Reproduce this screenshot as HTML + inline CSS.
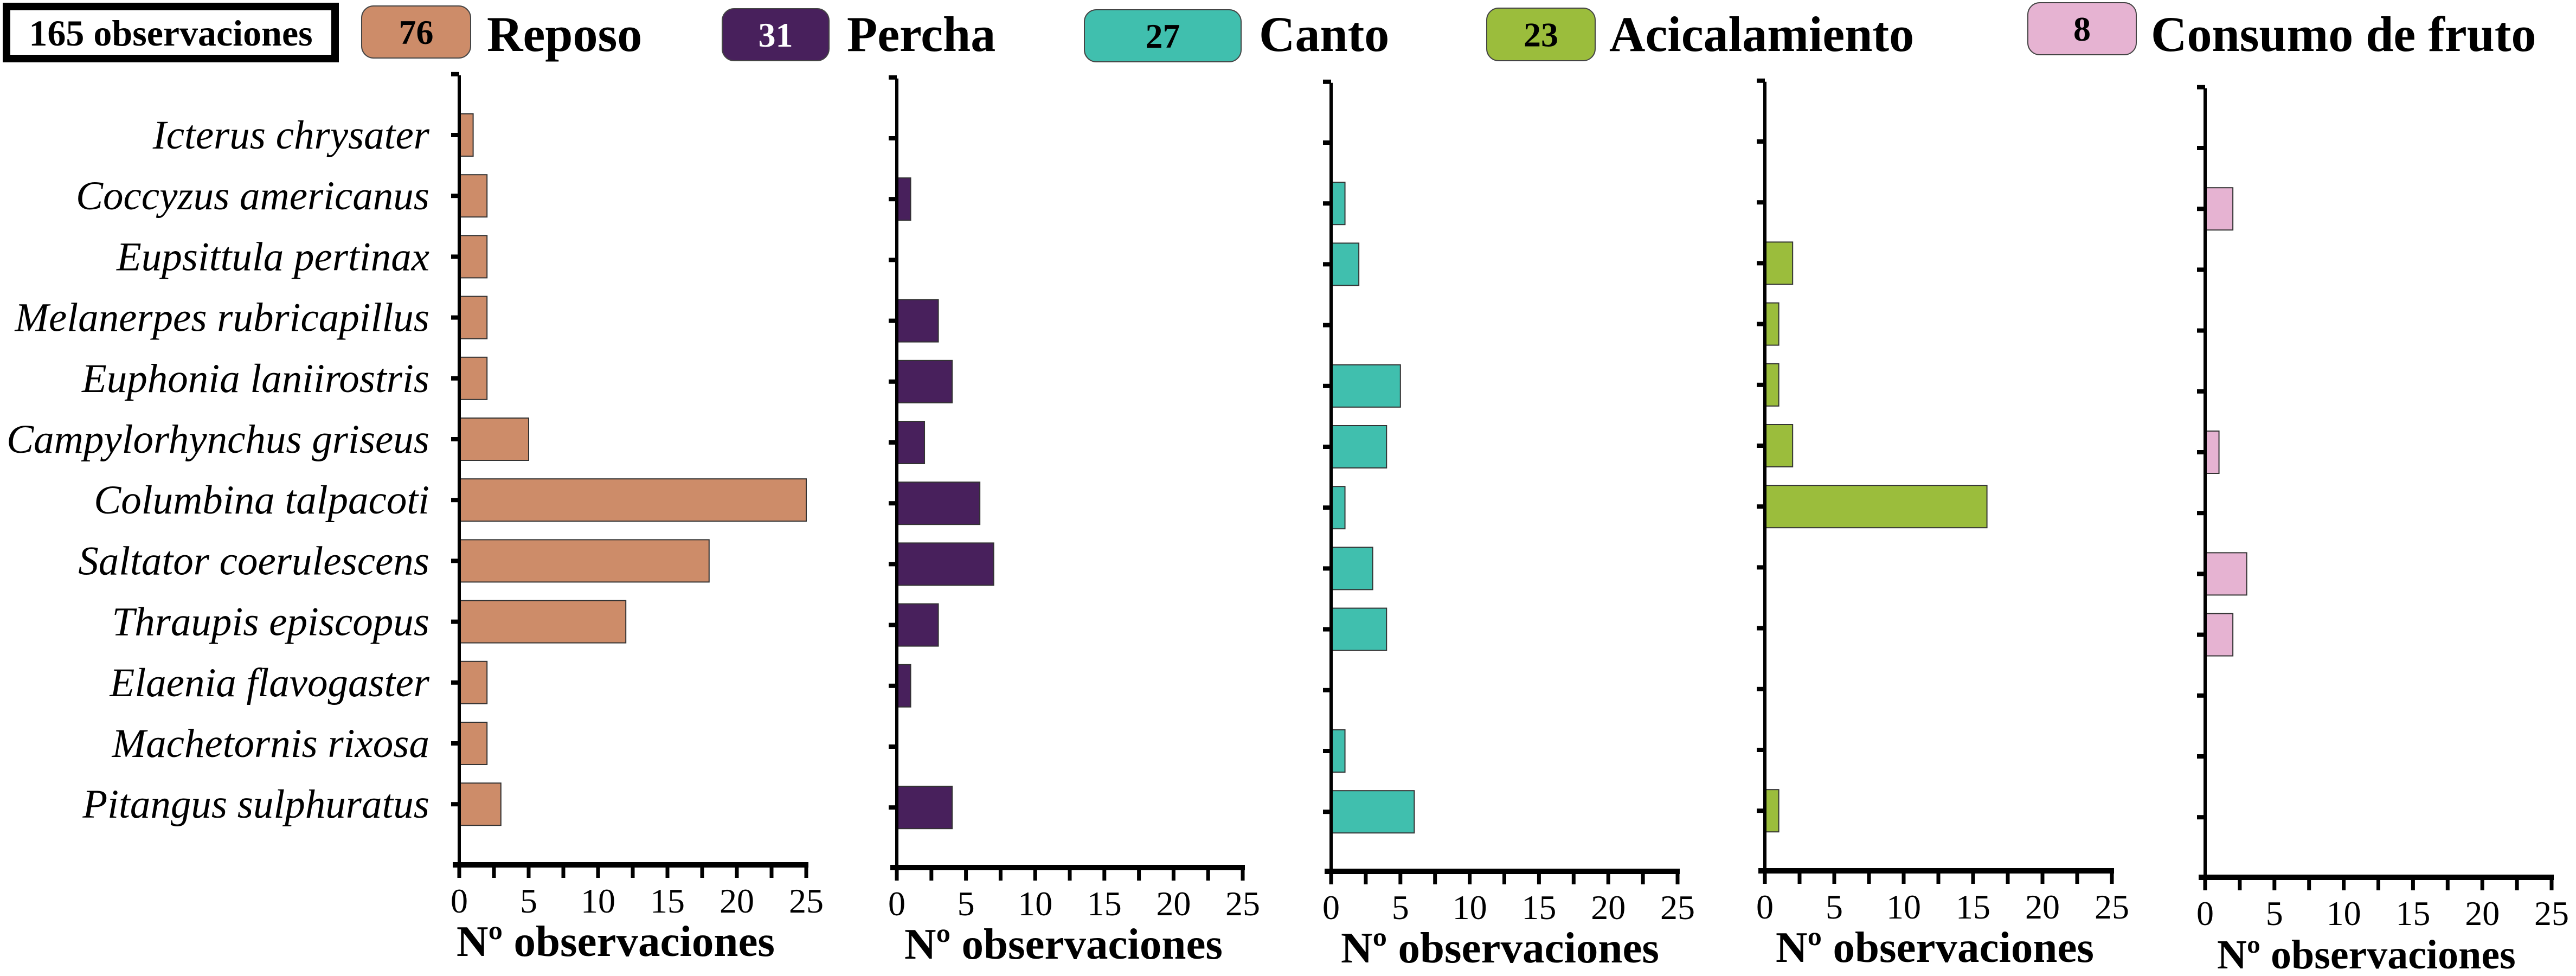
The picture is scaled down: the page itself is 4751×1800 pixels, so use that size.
<!DOCTYPE html>
<html><head><meta charset="utf-8"><style>
html,body{margin:0;padding:0;background:#fff}
svg{display:block}
text{font-family:"Liberation Serif",serif}
</style></head><body>
<svg id="chart" width="4751" height="1800" viewBox="0 0 4751 1800" xmlns="http://www.w3.org/2000/svg" font-family="Liberation Serif, serif">
<g id="legend">
  <rect x="12" y="12" width="606" height="96" fill="#fff" stroke="#000" stroke-width="14"/>
  <text x="315" y="84" font-size="68" font-weight="bold" text-anchor="middle">165 observaciones</text>
</g>
<g id="charts"></g>
</svg>
<script>
const species = ["Icterus chrysater","Coccyzus americanus","Eupsittula pertinax","Melanerpes rubricapillus","Euphonia laniirostris","Campylorhynchus griseus","Columbina talpacoti","Saltator coerulescens","Thraupis episcopus","Elaenia flavogaster","Machetornis rixosa","Pitangus sulphuratus"];
const behaviors = ["Reposo","Percha","Canto","Acicalamiento","Consumo de fruto"];
const reposo = [1,2,2,2,2,5,25,18,12,2,2,3];
const percha = [0,1,0,3,4,2,6,7,3,1,0,4];
const canto = [0,1,2,0,5,4,1,3,4,0,1,6];
const acicalamiento = [0,0,2,1,1,2,16,0,0,0,0,1];
const consumo = [0,2,0,0,0,1,0,3,2,0,0,0];
const totals = [76,31,27,23,8];
const xTicks = [0,5,10,15,20,25];

const series = [reposo,percha,canto,acicalamiento,consumo];
const colors = ["#cd8c69","#48205c","#40bfae","#9bbd3c","#e6b3d2"];
const numColors = ["#000","#fff","#000","#000","#000"];
const layout = [
  {x0:847,x1:1487,t1:249,axis:1595,title:81,tx:-5},
  {x0:1654,x1:2292,t1:255,axis:1600,title:81,tx:14},
  {x0:2455,x1:3094,t1:263,axis:1607,title:81,tx:18},
  {x0:3255,x1:3895,t1:261,axis:1606,title:81,tx:20},
  {x0:4067,x1:4706,t1:273,axis:1618,title:76,tx:22}
];
const legendPos = [
  {bx:667,by:11,bw:201,bh:96,tx:898},
  {bx:1332,by:16,bw:197,bh:96,tx:1562},
  {bx:2000,by:18,bw:289,bh:96,tx:2322},
  {bx:2742,by:15,bw:200,bh:97,tx:2968},
  {bx:3740,by:5,bw:200,bh:96,tx:3967}
];
const NS="http://www.w3.org/2000/svg";
function mk(tag,attrs,parent){const e=document.createElementNS(NS,tag);for(const k in attrs)e.setAttribute(k,attrs[k]);parent.appendChild(e);return e;}
const legend=document.getElementById('legend');
const root=document.getElementById('charts');
const spacing=112.2, maxV=25;

behaviors.forEach((b,i)=>{
  const lp=legendPos[i];
  const r=mk('rect',{x:lp.bx,y:lp.by,width:lp.bw,height:lp.bh,rx:22,fill:colors[i],stroke:'#444','stroke-width':2},legend);
  
  
  const n=mk('text',{x:lp.bx+lp.bw/2,y:lp.by+lp.bh/2+22,'font-size':64,'font-weight':'bold','text-anchor':'middle',fill:numColors[i]},legend);
  n.textContent=totals[i];
  
  
  const t=mk('text',{x:lp.tx,y:94,'font-size':92,'font-weight':'bold'},legend);
  t.textContent=b;
  
  

  const L=layout[i];
  const g=mk('g',{},root);
  
  
  const xs=v=>L.x0+(v/maxV)*(L.x1-L.x0);
  const ys=k=>L.t1+k*spacing;
  const top=L.t1-spacing+2;
  series[i].forEach((v,k)=>{
    if(v<=0)return;
    const bar=mk('rect',{x:xs(0),y:ys(k)-39,width:xs(v)-xs(0),height:78,fill:colors[i],stroke:'#333','stroke-width':2},g);
    
    
  });
  const ya=mk('line',{x1:L.x0,y1:top,x2:L.x0,y2:L.axis,stroke:'#000','stroke-width':6},g);
  
  
  for(let k=-1;k<species.length;k++){
    const tk=mk('line',{x1:L.x0-15,y1:ys(k),x2:L.x0,y2:ys(k),stroke:'#000','stroke-width':8},g);
    
    
  }
  if(i===0){
    species.forEach((s,k)=>{
      const lab=mk('text',{x:792,y:ys(k)+25,'font-size':75,'font-style':'italic','text-anchor':'end'},g);
      lab.textContent=s;
      
      
    });
  }
  const xa=mk('line',{x1:L.x0-12,y1:L.axis,x2:L.x1+4,y2:L.axis,stroke:'#000','stroke-width':10},g);
  
  
  for(let v=0;v<=maxV;v+=2.5){
    const tk=mk('line',{x1:xs(v),y1:L.axis,x2:xs(v),y2:L.axis+24,stroke:'#000','stroke-width':7},g);
    
    
  }
  xTicks.forEach(v=>{
    const tl=mk('text',{x:xs(v),y:L.axis+88,'font-size':64,'text-anchor':'middle','font-family':'Liberation Serif, serif'},g);
    tl.textContent=v;
    
    
  });
  const tt=mk('text',{x:L.x0+L.tx,y:L.axis+168,'font-size':L.title,'font-weight':'bold'},g);
  tt.textContent='Nº observaciones';
  
  
});
</script>
</body></html>
